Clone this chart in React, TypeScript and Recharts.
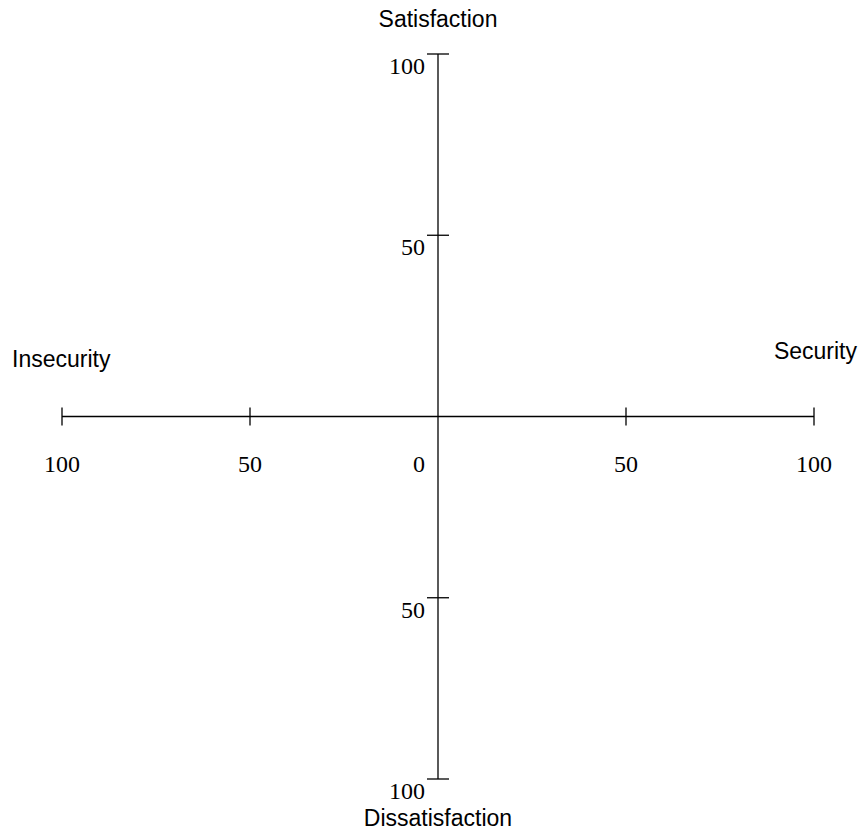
import { ScatterChart, Scatter, XAxis, YAxis, ReferenceLine } from "recharts";

const SERIF = "'Liberation Serif', 'Times New Roman', serif";
const SANS = "'Liberation Sans', Arial, sans-serif";
const NEGRO = "#000";

// ticks of both axes, in axis units (-100 .. 100)
const ticksX = [-100, -50, 50, 100];
const ticksY = [-100, -50, 50, 100];

// the four pole titles, placed at the end of each half axis
const titulos = [
  { nombre: "Satisfaction", x: 0, y: 100, lado: "arriba" },
  { nombre: "Dissatisfaction", x: 0, y: -100, lado: "abajo" },
  { nombre: "Insecurity", x: -100, y: 0, lado: "izquierda" },
  { nombre: "Security", x: 100, y: 0, lado: "derecha" },
];

const origen = [{ x: 0, y: 0, etiqueta: "0" }];

function TickX(props: any) {
  const { cx, cy, payload } = props;
  return (
    <g>
      <line x1={cx} y1={cy - 9} x2={cx} y2={cy + 9} stroke={NEGRO} strokeWidth={1.3} />
      <text x={cx} y={cy + 55} textAnchor="middle" fontFamily={SERIF} fontSize={24} fill={NEGRO}>
        {Math.abs(payload.x)}
      </text>
    </g>
  );
}

function TickY(props: any) {
  const { cx, cy, payload } = props;
  return (
    <g>
      <line x1={cx - 11} y1={cy} x2={cx + 11} y2={cy} stroke={NEGRO} strokeWidth={1.3} />
      <text x={cx - 13} y={cy + 20} textAnchor="end" fontFamily={SERIF} fontSize={24} fill={NEGRO}>
        {Math.abs(payload.y)}
      </text>
    </g>
  );
}

function Cero(props: any) {
  const { cx, cy, payload } = props;
  return (
    <text x={cx - 19} y={cy + 55} textAnchor="middle" fontFamily={SERIF} fontSize={24} fill={NEGRO}>
      {payload.etiqueta}
    </text>
  );
}

function Titulo(props: any) {
  const { cx, cy, payload } = props;
  let x = cx;
  let y = cy;
  let anchor: "start" | "middle" | "end" = "middle";
  if (payload.lado === "arriba") y = cy - 27;
  if (payload.lado === "abajo") y = cy + 47;
  if (payload.lado === "izquierda") {
    x = cx - 50;
    y = cy - 50;
    anchor = "start";
  }
  if (payload.lado === "derecha") {
    x = cx + 43;
    y = cy - 58;
    anchor = "end";
  }
  return (
    <text x={x} y={y} textAnchor={anchor} fontFamily={SANS} fontSize={23} fill={NEGRO}>
      {payload.nombre}
    </text>
  );
}

export default function App() {
  return (
    <div style={{ position: "absolute", left: 0, top: 0, background: "#fff" }}>
      <ScatterChart width={861} height={834} margin={{ top: 54, right: 47, bottom: 55, left: 62 }}>
        <XAxis type="number" dataKey="x" domain={[-100, 100]} hide />
        <YAxis type="number" dataKey="y" domain={[-100, 100]} hide />
        <ReferenceLine
          segment={[{ x: -100, y: 0 }, { x: 100, y: 0 }]}
          stroke={NEGRO}
          strokeWidth={1.3}
          ifOverflow="visible"
        />
        <ReferenceLine
          segment={[{ x: 0, y: -100 }, { x: 0, y: 100 }]}
          stroke={NEGRO}
          strokeWidth={1.3}
          ifOverflow="visible"
        />
        <Scatter data={ticksX.map((x) => ({ x, y: 0 }))} shape={TickX} isAnimationActive={false} />
        <Scatter data={ticksY.map((y) => ({ x: 0, y }))} shape={TickY} isAnimationActive={false} />
        <Scatter data={origen} shape={Cero} isAnimationActive={false} />
        <Scatter data={titulos} shape={Titulo} isAnimationActive={false} />
      </ScatterChart>
    </div>
  );
}
